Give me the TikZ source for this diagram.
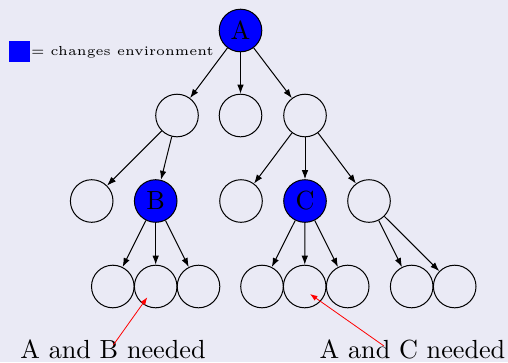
\documentclass[tikz,border=0pt]{standalone}
\usepackage{graphicx}
\usetikzlibrary{arrows.meta}
\definecolor{bgc}{RGB}{234,234,245}
\newcommand{\bigtxt}[1]{\scalebox{2.62}{#1}}
\newcommand{\legtxt}[1]{\scalebox{2.62}{\tiny #1}}
\begin{document}
\begin{tikzpicture}[x=1pt,y=-1pt,
  tnode/.style={circle,draw=black,line width=1pt,minimum size=42.6pt,inner sep=0pt},
  envnode/.style={tnode,fill=blue},
  edge/.style={line width=1pt,-{Latex[length=9pt,width=6.5pt]}},
  note/.style={red,line width=0.8pt,-{Latex[length=7.5pt,width=5.5pt]}},
  lbl/.style={anchor=base,inner sep=0pt}]
\fill[bgc] (0,0) rectangle (508,362);
\useasboundingbox (0,0) rectangle (508,362);
% legend
\node[fill=blue,minimum size=21pt,inner sep=0pt] (key) at (19.7,51.7) {};
\node[anchor=base west,inner sep=0pt] (keytxt) at (30.8,55) {\legtxt{= changes environment}};
% tree
\node[envnode] (A) at (240.5,30.5) {\bigtxt{A}};
\node[tnode] (l1a) at (177,115.5) {};
\node[tnode] (l1b) at (240.5,115.5) {};
\node[tnode] (l1c) at (305,115.5) {};
\node[tnode] (l2a) at (91.7,201) {};
\node[envnode] (B) at (155.7,201) {\bigtxt{B}};
\node[tnode] (l2c) at (241,201) {};
\node[envnode] (C) at (305,201) {\bigtxt{C}};
\node[tnode] (l2e) at (369,201) {};
\node[tnode] (b1) at (112.8,286.5) {};
\node[tnode] (b2) at (155.7,286.5) {};
\node[tnode] (b3) at (198.5,286.5) {};
\node[tnode] (c1) at (262,286.5) {};
\node[tnode] (c2) at (304.7,286.5) {};
\node[tnode] (c3) at (347.7,286.5) {};
\node[tnode] (e1) at (411.7,286.5) {};
\node[tnode] (e2) at (454.7,286.5) {};
\draw[edge] (A) -- (l1a);
\draw[edge] (A) -- (l1b);
\draw[edge] (A) -- (l1c);
\draw[edge] (l1a) -- (l2a);
\draw[edge] (l1a) -- (B);
\draw[edge] (l1c) -- (l2c);
\draw[edge] (l1c) -- (C);
\draw[edge] (l1c) -- (l2e);
\draw[edge] (B) -- (b1);
\draw[edge] (B) -- (b2);
\draw[edge] (B) -- (b3);
\draw[edge] (C) -- (c1);
\draw[edge] (C) -- (c2);
\draw[edge] (C) -- (c3);
\draw[edge] (l2e) -- (e1);
\draw[edge] (l2e) -- (e2);
% labels
\node[lbl] (nab) at (113,358) {\bigtxt{A and B needed}};
\node[lbl] (nac) at (412.5,358) {\bigtxt{A and C needed}};
\coordinate (sab) at (113.3,345);
\coordinate (tab) at (147.3,297.3);
\coordinate (sac) at (384,346);
\coordinate (tac) at (310,294);
\draw[note] (sab) -- (tab);
\draw[note] (sac) -- (tac);
\end{tikzpicture}
\end{document}
